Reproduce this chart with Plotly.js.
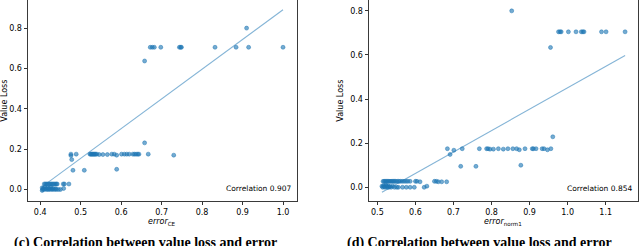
<!DOCTYPE html>
<html>
<head>
<meta charset="utf-8">
<script src="https://cdn.plot.ly/plotly-3.0.1.min.js"></script>
<style>html,body{margin:0;padding:0;background:#fff;}#chart{width:640px;height:246px;}</style>
</head>
<body>
<div id="chart"></div>
<script>
// ---- Left panel: value loss vs error_CE ----
const ceX = [
  0.910,
  0.672, 0.677, 0.682, 0.698, 0.744, 0.747, 0.749, 0.832, 0.884, 0.915, 1.000,
  0.658, 0.658,
  0.476, 0.476, 0.489, 0.523, 0.525, 0.527, 0.529, 0.531, 0.533, 0.535, 0.537, 0.540, 0.546, 0.555, 0.566,
  0.577, 0.583, 0.589, 0.601, 0.608, 0.614, 0.620, 0.629, 0.633, 0.637, 0.641, 0.644, 0.667, 0.730,
  0.478, 0.481, 0.509, 0.589,
  0.410, 0.413, 0.416, 0.419, 0.422, 0.425, 0.428, 0.431, 0.434, 0.437, 0.440, 0.442, 0.457, 0.460, 0.471,
  0.405, 0.406, 0.408, 0.410, 0.412, 0.414, 0.416, 0.418, 0.420, 0.422, 0.424, 0.426, 0.428, 0.430,
  0.432, 0.435, 0.438, 0.440, 0.445, 0.450, 0.458, 0.405
];
const ceY = [
  0.800,
  0.705, 0.705, 0.705, 0.705, 0.705, 0.705, 0.705, 0.705, 0.705, 0.705, 0.705,
  0.637, 0.231,
  0.175, 0.168, 0.175, 0.175, 0.175, 0.175, 0.175, 0.175, 0.175, 0.175, 0.175, 0.175, 0.173, 0.173, 0.173,
  0.175, 0.175, 0.170, 0.175, 0.175, 0.175, 0.175, 0.175, 0.175, 0.175, 0.175, 0.175, 0.175, 0.170,
  0.148, 0.095, 0.095, 0.100,
  0.027, 0.027, 0.027, 0.027, 0.027, 0.027, 0.027, 0.027, 0.027, 0.027, 0.027, 0.027, 0.027, 0.027, 0.027,
  0.008, 0.000, 0.005, 0.000, 0.010, 0.003, 0.000, 0.008, 0.000, 0.005, 0.000, 0.010, 0.002, 0.000,
  0.005, 0.000, 0.003, 0.000, 0.000, 0.000, 0.005, -0.005
];
const ceFitX = [0.405, 1.000];
const ceFitY = [0.014, 0.891];

// ---- Right panel: value loss vs error_norm1 ----
const n1X = [
  0.853,
  0.976, 0.980, 0.983, 1.002, 1.022, 1.036, 1.040, 1.043, 1.089, 1.101, 1.151,
  0.955, 0.961,
  0.684, 0.701, 0.723, 0.768, 0.787, 0.791, 0.796, 0.805, 0.818, 0.831, 0.843, 0.856, 0.866, 0.873,
  0.888, 0.907, 0.910, 0.917, 0.933, 0.938, 0.947, 0.956,
  0.691, 0.719, 0.759, 0.877,
  0.515, 0.518, 0.521, 0.524, 0.527, 0.530, 0.533, 0.536, 0.539, 0.542, 0.545, 0.548, 0.552, 0.556,
  0.560, 0.565, 0.570, 0.575, 0.580, 0.586, 0.600, 0.604, 0.612, 0.650, 0.655, 0.660, 0.669, 0.682,
  0.512, 0.514, 0.516, 0.518, 0.520, 0.522, 0.524, 0.526, 0.528, 0.530, 0.533, 0.536, 0.540, 0.545,
  0.551, 0.555, 0.566, 0.576, 0.586, 0.597, 0.623, 0.630
];
const n1Y = [
  0.800,
  0.705, 0.705, 0.705, 0.705, 0.705, 0.705, 0.705, 0.705, 0.705, 0.705, 0.705,
  0.634, 0.229,
  0.175, 0.168, 0.175, 0.175, 0.175, 0.175, 0.173, 0.173, 0.175, 0.173, 0.175, 0.175, 0.175, 0.170,
  0.175, 0.175, 0.175, 0.175, 0.175, 0.175, 0.170, 0.175,
  0.149, 0.095, 0.095, 0.100,
  0.027, 0.027, 0.027, 0.027, 0.027, 0.027, 0.027, 0.027, 0.027, 0.027, 0.027, 0.027, 0.027, 0.027,
  0.027, 0.027, 0.027, 0.027, 0.027, 0.027, 0.027, 0.027, 0.025, 0.027, 0.027, 0.025, 0.025, 0.025,
  0.005, 0.000, 0.008, 0.003, 0.000, 0.010, 0.005, 0.000, 0.007, 0.000, 0.004, 0.000, 0.005, 0.000,
  0.000, 0.000, 0.000, 0.000, 0.000, 0.000, 0.000, 0.005
];
const n1FitX = [0.512, 1.151];
const n1FitY = [-0.023, 0.598];

const xTicksCE = [0.4, 0.5, 0.6, 0.7, 0.8, 0.9, 1.0];
const xTicksN1 = [0.5, 0.6, 0.7, 0.8, 0.9, 1.0, 1.1];
const yTicksCE = [0.0, 0.2, 0.4, 0.6, 0.8];
const yTicksN1 = [0.0, 0.2, 0.4, 0.6, 0.8];
const xTitles = ['<i>error</i><sub>CE</sub>', '<i>error</i><sub>norm1</sub>'];
const yTitle = 'Value Loss';
const corrLabels = ['Correlation 0.907', 'Correlation 0.854'];
const captions = ['(c) Correlation between value loss and error', '(d) Correlation between value loss and error'];

const BLUE = '#1f77b4';
const FONT = 'DejaVu Sans, sans-serif';

const mk = {size: 4, color: 'rgba(31,119,180,0.62)', line: {width: 0.5, color: 'rgba(31,119,180,0.95)'}};
const lineStyle = {color: 'rgba(31,119,180,0.55)', width: 1.1};

const traces = [
  {x: ceX, y: ceY, type: 'scatter', mode: 'markers', marker: mk, xaxis: 'x', yaxis: 'y', hoverinfo: 'skip'},
  {x: ceFitX, y: ceFitY, type: 'scatter', mode: 'lines', line: lineStyle, xaxis: 'x', yaxis: 'y', hoverinfo: 'skip'},
  {x: n1X, y: n1Y, type: 'scatter', mode: 'markers', marker: mk, xaxis: 'x2', yaxis: 'y2', hoverinfo: 'skip'},
  {x: n1FitX, y: n1FitY, type: 'scatter', mode: 'lines', line: lineStyle, xaxis: 'x2', yaxis: 'y2', hoverinfo: 'skip'}
];

function fmt(v, d) { return v.toFixed(d); }
const axBase = {
  showline: true, mirror: true, linecolor: '#3a3a3a', linewidth: 1,
  ticks: 'outside', ticklen: 3.5, tickwidth: 0.8, tickcolor: '#000',
  showgrid: false, zeroline: false,
  tickfont: {family: FONT, size: 8, color: '#000'}
};

const layout = {
  width: 640, height: 246,
  margin: {l: 0, r: 0, t: 0, b: 0},
  paper_bgcolor: '#fff', plot_bgcolor: '#fff',
  showlegend: false,
  xaxis: Object.assign({}, axBase, {
    domain: [0.0438, 0.4641], range: [0.370, 1.0346], anchor: 'y',
    tickvals: xTicksCE, ticktext: xTicksCE.map(v => fmt(v, 1))
  }),
  yaxis: Object.assign({}, axBase, {
    domain: [0.184, 0.998], range: [-0.056, 0.937], anchor: 'x',
    tickvals: yTicksCE, ticktext: yTicksCE.map(v => fmt(v, 1)),
    title: {text: yTitle, font: {family: FONT, size: 8, color: '#000'}}
  }),
  xaxis2: Object.assign({}, axBase, {
    domain: [0.5766, 0.9969], range: [0.478, 1.185], anchor: 'y2',
    tickvals: xTicksN1, ticktext: xTicksN1.map(v => fmt(v, 1))
  }),
  yaxis2: Object.assign({}, axBase, {
    domain: [0.184, 0.998], range: [-0.061, 0.847], anchor: 'x2',
    tickvals: yTicksN1, ticktext: yTicksN1.map(v => fmt(v, 1)),
    title: {text: yTitle, font: {family: FONT, size: 8, color: '#000'}}
  }),
  annotations: [
    {text: xTitles[0], xref: 'paper', yref: 'paper', x: 0.2527, y: 0.099,
     xanchor: 'center', yanchor: 'middle', showarrow: false, font: {family: FONT, size: 8, color: '#000'}},
    {text: xTitles[1], xref: 'paper', yref: 'paper', x: 0.786, y: 0.099,
     xanchor: 'center', yanchor: 'middle', showarrow: false, font: {family: FONT, size: 8, color: '#000'}},
    {text: corrLabels[0], xref: 'x domain', yref: 'y domain', x: 0.985, y: 0.063,
     xanchor: 'right', yanchor: 'middle', showarrow: false, font: {family: FONT, size: 7.5, color: '#000'}},
    {text: corrLabels[1], xref: 'x2 domain', yref: 'y2 domain', x: 0.985, y: 0.063,
     xanchor: 'right', yanchor: 'middle', showarrow: false, font: {family: FONT, size: 7.5, color: '#000'}},
    {text: '<b>' + captions[0] + '</b>', xref: 'paper', yref: 'paper', x: 0.0188, y: 0.052,
     xanchor: 'left', yanchor: 'top', showarrow: false, font: {family: 'Liberation Serif, serif', size: 14, color: '#000'}},
    {text: '<b>' + captions[1] + '</b>', xref: 'paper', yref: 'paper', x: 0.539, y: 0.052,
     xanchor: 'left', yanchor: 'top', showarrow: false, font: {family: 'Liberation Serif, serif', size: 14, color: '#000'}}
  ]
};

Plotly.newPlot('chart', traces, layout, {staticPlot: true, displayModeBar: false});
</script>
</body>
</html>
